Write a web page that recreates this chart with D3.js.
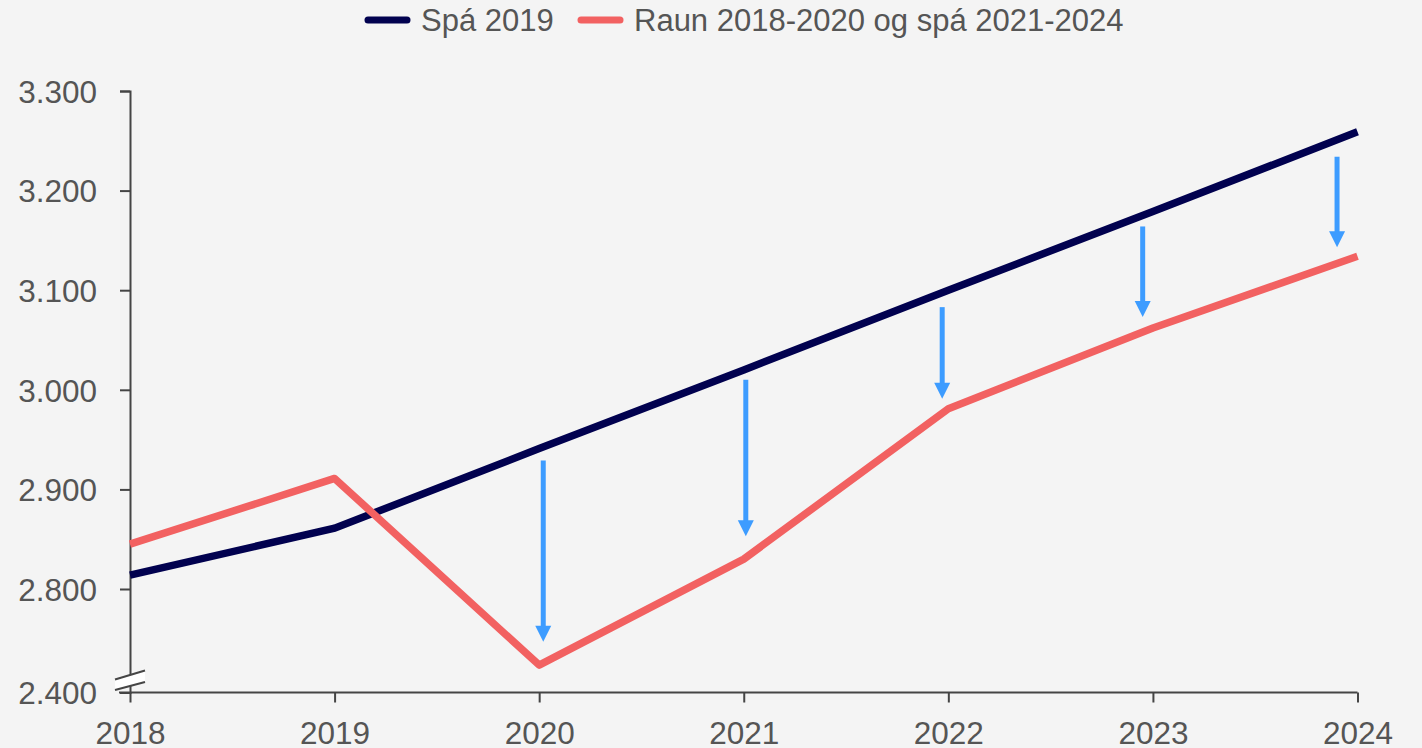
<!DOCTYPE html>
<html>
<head>
<meta charset="utf-8">
<script src="https://cdn.jsdelivr.net/npm/d3@7"></script>
<style>
  html, body { margin: 0; padding: 0; background: #f4f4f4; }
  svg { display: block; }
  text { font-family: "Liberation Sans", Arial, sans-serif; fill: #555555; }
</style>
</head>
<body>
<svg id="chart" width="1422" height="748"></svg>
<script>
// ---- data ----
const years = [2018, 2019, 2020, 2021, 2022, 2023, 2024];
const forecast2019 = [2814, 2861, 2941, 3020, 3100, 3179, 3259];
const actualAndForecast = [2845, 2911, 2506, 2830, 2981, 3062, 3134];
const seriesNames = ["Spá 2019", "Raun 2018-2020 og spá 2021-2024"];
const yTickValues = [2400, 2800, 2900, 3000, 3100, 3200, 3300];
const yTickLabels = ["2.400", "2.800", "2.900", "3.000", "3.100", "3.200", "3.300"];
const xTickLabels = ["2018", "2019", "2020", "2021", "2022", "2023", "2024"];
// arrows: position (in years), start value, end value
const arrowX = [2020.02, 2021.01, 2021.97, 2022.95, 2023.9];
const arrowFrom = [2929, 3010, 3083, 3164, 3234];
const arrowTo = [2596, 2853, 2991, 3073, 3143];

// ---- layout ----
const colors = { navy: "#01014f", red: "#f26161", blue: "#3d9cff", axis: "#454545" };
const svg = d3.select("#chart");
svg.append("rect").attr("width", 1422).attr("height", 748).attr("fill", "#f4f4f4");

const x = d3.scaleLinear().domain([2018, 2024]).range([130, 1357.5]);
// broken axis: 2400 -> 2800 compressed
const y = d3.scaleLinear().domain([2400, 2800, 3300]).range([692.5, 589, 91]);

// y axis
const yAxis = d3.axisLeft(y).tickValues(yTickValues).tickSize(10).tickPadding(23)
  .tickFormat((d, i) => yTickLabels[i]);
const gy = svg.append("g").attr("transform", `translate(${x(2018)},0)`).call(yAxis);
gy.select(".domain").attr("stroke", colors.axis).attr("stroke-width", 2);
gy.selectAll(".tick line").attr("stroke", colors.axis).attr("stroke-width", 2);
gy.selectAll(".tick text").attr("font-size", 31.5).attr("fill", "#555").attr("dy", "0.36em")
  .style("font-family", "'Liberation Sans', Arial, sans-serif");

// x axis
const xAxis = d3.axisBottom(x).tickValues(years).tickSize(10).tickPadding(19)
  .tickFormat((d, i) => xTickLabels[i]);
const gx = svg.append("g").attr("transform", `translate(0,${y(2400)})`).call(xAxis);
gx.select(".domain").attr("stroke", colors.axis).attr("stroke-width", 2)
  .attr("d", `M${x(2018) - 11},0H${x(2024)}`);
gx.selectAll(".tick line").attr("stroke", colors.axis).attr("stroke-width", 2);
gx.selectAll(".tick text").attr("font-size", 31.5).attr("fill", "#555").attr("dy", "0.71em")
  .style("font-family", "'Liberation Sans', Arial, sans-serif");

// axis break marker
const bx = x(2018), by = y(2400) - 11;
const x0 = bx - 15, x1 = bx + 15;
svg.append("path")
  .attr("d", `M${x0},${by - 2}L${x1},${by - 11}L${x1},${by + 0.5}L${x0},${by + 8.5}Z`)
  .attr("fill", "#ffffff");
svg.append("path").attr("d", `M${x0},${by - 2}L${x1},${by - 11}`).attr("stroke", colors.axis).attr("stroke-width", 2);
svg.append("path").attr("d", `M${x0},${by + 8.5}L${x1},${by + 0.5}`).attr("stroke", colors.axis).attr("stroke-width", 2);

// lines
const line = d3.line().x((d, i) => x(years[i])).y(d => y(d));
svg.append("path").datum(forecast2019).attr("d", line)
  .attr("fill", "none").attr("stroke", colors.navy).attr("stroke-width", 7.5);
svg.append("path").datum(actualAndForecast).attr("d", line)
  .attr("fill", "none").attr("stroke", colors.red).attr("stroke-width", 7.5)
  .attr("stroke-linejoin", "round");

// arrows
arrowX.forEach((ax, i) => {
  const px = x(ax), yTop = y(arrowFrom[i]), yTip = y(arrowTo[i]);
  const headH = 16, headW = 8;
  svg.append("line").attr("x1", px).attr("x2", px).attr("y1", yTop).attr("y2", yTip - headH + 1)
    .attr("stroke", colors.blue).attr("stroke-width", 5);
  svg.append("path")
    .attr("d", `M${px - headW},${yTip - headH}L${px + headW},${yTip - headH}L${px},${yTip}Z`)
    .attr("fill", colors.blue);
});

// legend
const legend = svg.append("g");
const legendItems = [
  { name: seriesNames[0], color: colors.navy, x0: 368 },
  { name: seriesNames[1], color: colors.red, x0: 581 }
];
legendItems.forEach(it => {
  legend.append("line").attr("x1", it.x0).attr("x2", it.x0 + 39).attr("y1", 20).attr("y2", 20)
    .attr("stroke", it.color).attr("stroke-width", 7).attr("stroke-linecap", "round");
  legend.append("text").attr("x", it.x0 + 53).attr("y", 31).attr("font-size", 31)
    .attr("fill", "#555").text(it.name);
});
</script>
</body>
</html>
